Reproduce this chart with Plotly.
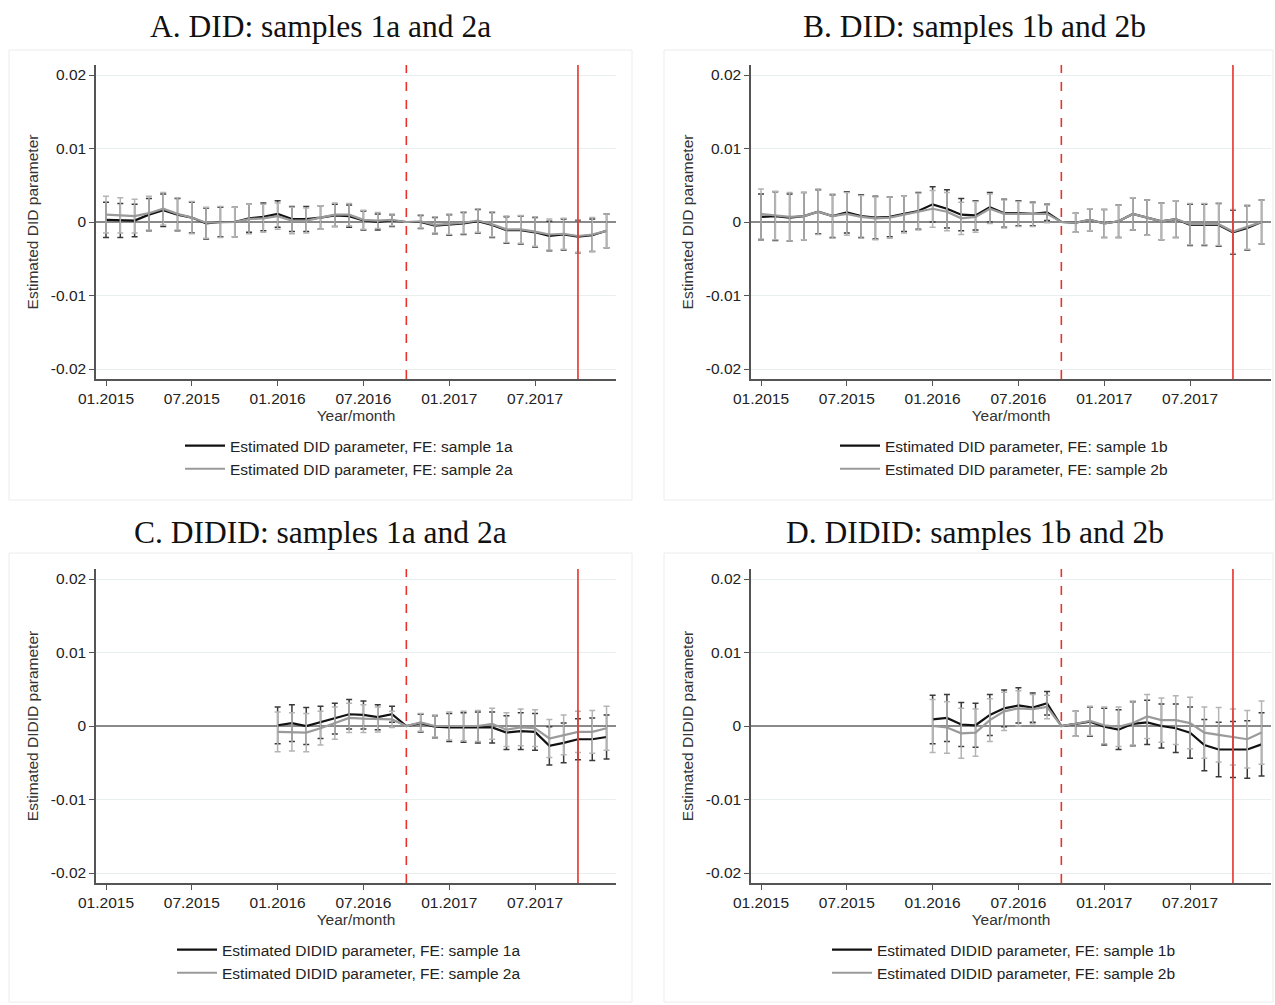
import plotly.graph_objects as go

W, H = 1275, 1005

# ---------------- data ----------------
MONTH_LABELS = ["01.2015", "07.2015", "01.2016", "07.2016", "01.2017", "07.2017"]
TICK_MONTHS = [0, 6, 12, 18, 24, 30]          # month index (0 = 01.2015)
MONTHS = list(range(36))                       # 01.2015 ... 12.2017
REF_MONTH = 21                                 # 10.2016 (dashed red line)
EVENT_MONTH = 33                               # 10.2017 (solid red line)
Y_TICKS = [0.02, 0.01, 0, -0.01, -0.02]
Y_TICK_TEXT = ["0.02", "0.01", "0", "-0.01", "-0.02"]

N = None
A_black = [0.0003, 0.0002, 0.0002, 0.0010, 0.0016, 0.0010, 0.0006, -0.0002, 0.0000, 0.0000, 0.0005,
           0.0007, 0.0011, 0.0004, 0.0004, 0.0006, 0.0009, 0.0008, 0.0002, 0.0000, 0.0002, 0.0000,
           0.0000, -0.0005, -0.0004, -0.0002, 0.0001, -0.0004, -0.0011, -0.0011, -0.0014, -0.0019,
           -0.0017, -0.0020, -0.0018, -0.0012]
A_black_err = [0.0024, 0.0023, 0.0022, 0.0022, 0.0022, 0.0022, 0.0021, 0.0021, 0.0020, 0.0020, 0.0019,
               0.0019, 0.0018, 0.0017, 0.0017, 0.0016, 0.0015, 0.0015, 0.0013, 0.0011, 0.0008, N,
               0.0009, 0.0011, 0.0014, 0.0015, 0.0016, 0.0017, 0.0018, 0.0019, 0.0020, 0.0020,
               0.0021, 0.0022, 0.0022, 0.0023]
A_gray = [0.0010, 0.0009, 0.0008, 0.0012, 0.0018, 0.0011, 0.0006, -0.0001, 0.0000, 0.0000, 0.0004,
          0.0005, 0.0008, 0.0002, 0.0002, 0.0006, 0.0010, 0.0010, 0.0003, 0.0002, 0.0003, 0.0000,
          0.0001, -0.0004, -0.0003, -0.0001, 0.0002, -0.0003, -0.0010, -0.0010, -0.0013, -0.0017,
          -0.0016, -0.0019, -0.0017, -0.0012]
A_gray_err = [0.0025, 0.0024, 0.0023, 0.0023, 0.0022, 0.0022, 0.0022, 0.0021, 0.0021, 0.0020, 0.0020,
              0.0019, 0.0018, 0.0018, 0.0017, 0.0016, 0.0016, 0.0015, 0.0013, 0.0011, 0.0008, N,
              0.0009, 0.0011, 0.0014, 0.0015, 0.0016, 0.0017, 0.0018, 0.0019, 0.0020, 0.0021,
              0.0021, 0.0022, 0.0023, 0.0023]

B_black = [0.0007, 0.0008, 0.0006, 0.0008, 0.0014, 0.0008, 0.0013, 0.0008, 0.0006, 0.0007, 0.0011,
           0.0015, 0.0024, 0.0018, 0.0010, 0.0009, 0.0020, 0.0012, 0.0012, 0.0011, 0.0013, 0.0000,
           -0.0001, 0.0003, -0.0002, 0.0001, 0.0011, 0.0006, 0.0001, 0.0004, -0.0004, -0.0004,
           -0.0004, -0.0014, -0.0008, 0.0000]
B_black_err = [0.0031, 0.0033, 0.0032, 0.0032, 0.0030, 0.0029, 0.0028, 0.0029, 0.0029, 0.0027, 0.0024,
               0.0025, 0.0024, 0.0026, 0.0022, 0.0020, 0.0020, 0.0019, 0.0017, 0.0016, 0.0011, N,
               0.0013, 0.0015, 0.0019, 0.0022, 0.0022, 0.0024, 0.0025, 0.0025, 0.0028, 0.0028,
               0.0029, 0.0030, 0.0030, 0.0030]
B_gray = [0.0011, 0.0009, 0.0007, 0.0008, 0.0014, 0.0008, 0.0011, 0.0007, 0.0005, 0.0006, 0.0010,
          0.0014, 0.0018, 0.0014, 0.0005, 0.0007, 0.0018, 0.0011, 0.0011, 0.0010, 0.0011, 0.0000,
          -0.0001, 0.0003, -0.0002, 0.0001, 0.0011, 0.0006, 0.0001, 0.0004, -0.0003, -0.0003,
          -0.0003, -0.0013, -0.0007, 0.0000]
B_gray_err = [0.0034, 0.0033, 0.0033, 0.0032, 0.0031, 0.0030, 0.0029, 0.0029, 0.0029, 0.0028, 0.0025,
              0.0025, 0.0025, 0.0026, 0.0022, 0.0021, 0.0020, 0.0019, 0.0017, 0.0016, 0.0012, N,
              0.0013, 0.0015, 0.0019, 0.0022, 0.0022, 0.0024, 0.0025, 0.0025, 0.0028, 0.0028,
              0.0029, 0.0030, 0.0030, 0.0030]

C_black = [N] * 12 + [0.0001, 0.0004, 0.0000, 0.0005, 0.0010, 0.0016, 0.0015, 0.0012, 0.0016, 0.0000,
                      0.0004, -0.0001, -0.0002, -0.0002, -0.0002, -0.0002, -0.0009, -0.0007, -0.0008,
                      -0.0027, -0.0023, -0.0018, -0.0018, -0.0015]
C_black_err = [N] * 12 + [0.0025, 0.0025, 0.0025, 0.0022, 0.0021, 0.0020, 0.0019, 0.0017, 0.0011, N,
                          0.0012, 0.0015, 0.0019, 0.0020, 0.0021, 0.0021, 0.0023, 0.0025, 0.0025,
                          0.0026, 0.0027, 0.0028, 0.0029, 0.0030]
C_gray = [N] * 12 + [-0.0008, -0.0008, -0.0009, -0.0003, 0.0004, 0.0011, 0.0010, 0.0009, 0.0009, 0.0000,
                     0.0005, 0.0000, 0.0000, 0.0000, 0.0000, 0.0003, -0.0005, -0.0002, -0.0003,
                     -0.0017, -0.0012, -0.0008, -0.0008, -0.0003]
C_gray_err = [N] * 12 + [0.0027, 0.0026, 0.0026, 0.0023, 0.0022, 0.0020, 0.0019, 0.0017, 0.0011, N,
                         0.0012, 0.0015, 0.0019, 0.0020, 0.0021, 0.0021, 0.0023, 0.0025, 0.0025,
                         0.0026, 0.0027, 0.0028, 0.0029, 0.0030]

D_black = [N] * 12 + [0.0009, 0.0011, 0.0002, 0.0001, 0.0015, 0.0024, 0.0028, 0.0025, 0.0031, 0.0000,
                      0.0003, 0.0006, -0.0001, -0.0005, 0.0003, 0.0005, 0.0000, -0.0003, -0.0009,
                      -0.0026, -0.0032, -0.0032, -0.0032, -0.0025]
D_black_err = [N] * 12 + [0.0033, 0.0032, 0.0030, 0.0030, 0.0028, 0.0025, 0.0024, 0.0020, 0.0016, N,
                          0.0017, 0.0020, 0.0025, 0.0027, 0.0030, 0.0030, 0.0030, 0.0033, 0.0035,
                          0.0035, 0.0037, 0.0038, 0.0039, 0.0043]
D_gray = [N] * 12 + [0.0000, -0.0002, -0.0010, -0.0009, 0.0008, 0.0020, 0.0024, 0.0023, 0.0026, 0.0000,
                     0.0003, 0.0007, 0.0001, -0.0001, 0.0004, 0.0013, 0.0008, 0.0008, 0.0004,
                     -0.0009, -0.0012, -0.0015, -0.0018, -0.0009]
D_gray_err = [N] * 12 + [0.0036, 0.0035, 0.0034, 0.0032, 0.0029, 0.0026, 0.0024, 0.0020, 0.0016, N,
                         0.0017, 0.0020, 0.0025, 0.0027, 0.0030, 0.0030, 0.0030, 0.0033, 0.0035,
                         0.0035, 0.0037, 0.0038, 0.0039, 0.0043]

PANELS = [
    dict(title="A. DID: samples 1a and 2a", ytitle="Estimated DID parameter",
         s1=(A_black, A_black_err), s2=(A_gray, A_gray_err),
         lab1="Estimated DID parameter, FE: sample 1a", lab2="Estimated DID parameter, FE: sample 2a"),
    dict(title="B. DID: samples 1b and 2b", ytitle="Estimated DID parameter",
         s1=(B_black, B_black_err), s2=(B_gray, B_gray_err),
         lab1="Estimated DID parameter, FE: sample 1b", lab2="Estimated DID parameter, FE: sample 2b"),
    dict(title="C. DIDID: samples 1a and 2a", ytitle="Estimated DIDID parameter",
         s1=(C_black, C_black_err), s2=(C_gray, C_gray_err),
         lab1="Estimated DIDID parameter, FE: sample 1a", lab2="Estimated DIDID parameter, FE: sample 2a"),
    dict(title="D. DIDID: samples 1b and 2b", ytitle="Estimated DIDID parameter",
         s1=(D_black, D_black_err), s2=(D_gray, D_gray_err),
         lab1="Estimated DIDID parameter, FE: sample 1b", lab2="Estimated DIDID parameter, FE: sample 2b"),
]

# ---------------- layout geometry (pixels) ----------------
PLOT_LEFT = [96, 751, 96, 751]
PLOT_TOP = [65, 65, 569, 569]
PLOT_W, PLOT_H = 520, 314
FRAME = [(9, 50, 632, 500), (664, 50, 1273, 500), (9, 553, 632, 1002), (664, 553, 1273, 1002)]
LEGEND_POS = [(180, 429), (835, 429), (172, 933), (827, 933)]
TITLE_POS = [(320, 27), (975, 27), (320, 532), (975, 532)]

SANS = "Liberation Sans, Arial, sans-serif"
SERIF = "Liberation Serif, Times New Roman, serif"
AXIS_COLOR = "#555555"
RED = "#e8322b"
FS = 15.5

fig = go.Figure()
layout = dict(width=W, height=H, margin=dict(l=0, r=0, t=0, b=0, autoexpand=False),
              template="none",
              paper_bgcolor="white", plot_bgcolor="white",
              font=dict(family=SANS, size=FS, color="#222222"),
              shapes=[], annotations=[])

for i, p in enumerate(PANELS):
    k = "" if i == 0 else str(i + 1)
    xa, ya = "x" + k, "y" + k
    leg = "legend" + k
    left, top = PLOT_LEFT[i], PLOT_TOP[i]

    for (vals, errs), lab, col, ecol in [(p["s1"], p["lab1"], "#111111", "#3a3a3a"),
                                          (p["s2"], p["lab2"], "#9a9a9a", "#b4b4b4")]:
        fig.add_trace(go.Scatter(
            x=MONTHS, y=vals, mode="lines", name=lab, xaxis=xa, yaxis=ya, legend=leg,
            line=dict(color=col, width=2.2),
            error_y=dict(type="data", array=errs, visible=True, color=ecol,
                         thickness=1.5, width=3),
            connectgaps=False))

    layout["xaxis" + k] = dict(
        domain=[left / W, (left + PLOT_W) / W], anchor=ya, automargin=False,
        range=[-0.7, 35.66], tickvals=TICK_MONTHS, ticktext=MONTH_LABELS,
        showgrid=False, zeroline=False, showline=True, linecolor=AXIS_COLOR, linewidth=1.5,
        ticks="outside", ticklen=5, tickcolor=AXIS_COLOR, tickwidth=1.2,
        tickfont=dict(size=FS, color="#222222"),
        title=dict(text="Year/month", font=dict(size=FS, color="#333333"), standoff=0))
    layout["yaxis" + k] = dict(
        domain=[1 - (top + PLOT_H) / H, 1 - top / H], anchor=xa, automargin=False,
        range=[-0.02136, 0.02136], tickvals=Y_TICKS, ticktext=Y_TICK_TEXT,
        showgrid=True, gridcolor="#e9efef", gridwidth=1,
        zeroline=True, zerolinecolor="#8a8a8a", zerolinewidth=1.5,
        showline=True, linecolor=AXIS_COLOR, linewidth=1.5,
        ticks="outside", ticklen=5, tickcolor=AXIS_COLOR, tickwidth=1.2,
        tickfont=dict(size=FS, color="#222222"),
        title=dict(text=p["ytitle"], font=dict(size=FS, color="#333333"), standoff=8))

    lx, ly = LEGEND_POS[i]
    layout[leg] = dict(x=lx / W, y=1 - ly / H, xanchor="left", yanchor="top",
                       xref="paper", yref="paper", bgcolor="rgba(0,0,0,0)",
                       font=dict(size=FS, color="#222222"), itemwidth=40,
                       tracegroupgap=0)

    # panel frame
    fx0, fy0, fx1, fy1 = FRAME[i]
    layout["shapes"].append(dict(type="rect", xref="paper", yref="paper",
                                 x0=fx0 / W, x1=fx1 / W, y0=1 - fy1 / H, y1=1 - fy0 / H,
                                 line=dict(color="#ececec", width=1), layer="below"))
    # vertical reference lines
    layout["shapes"].append(dict(type="line", xref=xa, yref=ya + " domain",
                                 x0=REF_MONTH, x1=REF_MONTH, y0=0, y1=1,
                                 line=dict(color=RED, width=1.6, dash="dash")))
    layout["shapes"].append(dict(type="line", xref=xa, yref=ya + " domain",
                                 x0=EVENT_MONTH, x1=EVENT_MONTH, y0=0, y1=1,
                                 line=dict(color=RED, width=1.6)))
    # panel title
    tx, ty = TITLE_POS[i]
    layout["annotations"].append(dict(text=p["title"], xref="paper", yref="paper",
                                      x=tx / W, y=1 - ty / H, xanchor="center", yanchor="middle",
                                      showarrow=False, font=dict(family=SERIF, size=31.5, color="#111111")))

fig.update_layout(**layout)
fig.write_html("out.html", config={"displayModeBar": False},
               post_script="document.body.style.margin='0px';document.body.style.overflow='hidden';")
